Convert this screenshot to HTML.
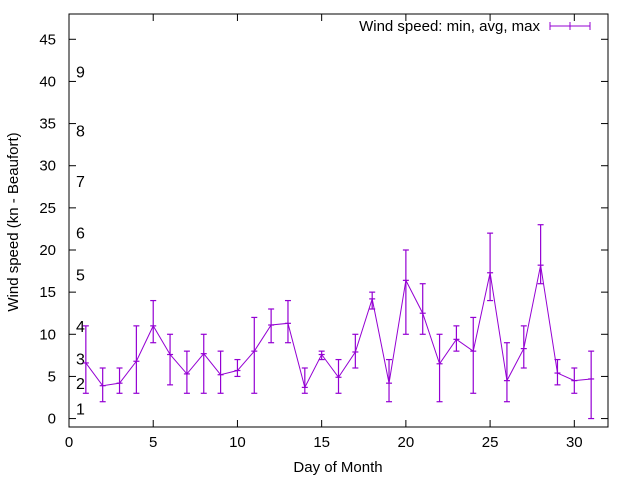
<!DOCTYPE html>
<html><head><meta charset="utf-8"><style>
html,body{margin:0;padding:0;background:#fff;}
svg{display:block;font-family:"Liberation Sans",Arial,sans-serif;}
</style></head><body>
<svg id="chart" width="640" height="480" viewBox="0 0 640 480">
<g id="axes"></g>
<g id="labels"></g>
<g id="series"></g>
<text x="0" y="0" transform="translate(18,222) rotate(-90)" text-anchor="middle" font-size="15" fill="#000">Wind speed (kn - Beaufort)</text>
<text x="338" y="472" text-anchor="middle" font-size="15" fill="#000">Day of Month</text>
<g>
<text x="540" y="31" text-anchor="end" font-size="15" fill="#000">Wind speed: min, avg, max</text>
<line x1="550" y1="26" x2="590" y2="26" stroke="#9400d3" stroke-width="1"/>
<line x1="550" y1="22" x2="550" y2="30" stroke="#9400d3"/>
<line x1="590" y1="22" x2="590" y2="30" stroke="#9400d3"/>
<line x1="570" y1="22" x2="570" y2="30" stroke="#9400d3"/>
</g>
</svg>
<script>
const days=[1,2,3,4,5,6,7,8,9,10,11,12,13,14,15,16,17,18,19,20,21,22,23,24,25,26,27,28,29,30,31];
const avgs=[6.6,3.9,4.2,6.8,11,7.6,5.3,7.7,5.2,5.7,8.0,11.1,11.3,3.7,7.6,4.9,7.9,14.2,4.2,16.4,12.5,6.5,9.4,8.0,17.3,4.5,8.3,18.2,5.4,4.5,4.7];
const mins=[3,2,3,3,9,4,3,3,3,5,3,9,9,3,7,3,6,13,2,10,10,2,8,3,14,2,6,16,4,3,0];
const maxs=[11,6,6,11,14,10,8,10,8,7,12,13,14,6,8,7,10,15,7,20,16,10,11,12,22,9,11,23,7,6,8];
const xTicks=[0,5,10,15,20,25,30];
const yTicks=[0,5,10,15,20,25,30,35,40,45];
const bfNames=["1","2","3","4","5","6","7","8","9"];
const bfVals=[1.2,4.2,7.1,11,17.1,22.1,28.2,34.2,41.2];
const NS="http://www.w3.org/2000/svg";
const L=69,R=608,T=14,B=427,XMIN=0,XMAX=32,YMIN=-1,YMAX=48;
function sx(v){return L+(v-XMIN)/(XMAX-XMIN)*(R-L);}
function sy(v){return B-(v-YMIN)/(YMAX-YMIN)*(B-T);}
function mk(tag,attrs,parent){const e=document.createElementNS(NS,tag);for(const k in attrs)e.setAttribute(k,attrs[k]);parent.appendChild(e);return e;}
const axes=document.getElementById('axes');
const border=mk('rect',{x:L,y:T,width:R-L,height:B-T,fill:'none',stroke:'#000','stroke-width':1},axes);


xTicks.forEach(v=>{
  const x=sx(v);
  mk('line',{x1:x,y1:B,x2:x,y2:B-7,stroke:'#000'},axes);
  mk('line',{x1:x,y1:T,x2:x,y2:T+7,stroke:'#000'},axes);
  const t=mk('text',{x:x,y:B+20,'text-anchor':'middle','font-size':15,fill:'#000'},axes);
  t.textContent=v;
  
  
});
yTicks.forEach(v=>{
  const y=sy(v);
  mk('line',{x1:L,y1:y,x2:L+7,y2:y,stroke:'#000'},axes);
  mk('line',{x1:R,y1:y,x2:R-7,y2:y,stroke:'#000'},axes);
  const t=mk('text',{x:L-13,y:y+5,'text-anchor':'end','font-size':15,fill:'#000'},axes);
  t.textContent=v;
  
  
});
const lab=document.getElementById('labels');
bfNames.forEach((n,i)=>{
  const t=mk('text',{x:76,y:sy(bfVals[i])+6,'font-size':16,fill:'#000'},lab);
  t.textContent=n;
  
  
});
const ser=document.getElementById('series');
const pts=days.map((d,i)=>sx(d)+','+sy(avgs[i])).join(' ');
const pl=mk('polyline',{points:pts,fill:'none',stroke:'#9400d3','stroke-width':1},ser);


days.forEach((d,i)=>{
  const x=sx(d);
  const g=mk('g',{stroke:'#9400d3','stroke-width':1.2},ser);
  
  
  mk('line',{x1:x,y1:sy(mins[i]),x2:x,y2:sy(maxs[i])},g);
  mk('line',{x1:x-3,y1:sy(mins[i]),x2:x+3,y2:sy(mins[i])},g);
  mk('line',{x1:x-3,y1:sy(maxs[i]),x2:x+3,y2:sy(maxs[i])},g);
  mk('line',{x1:x-3,y1:sy(avgs[i]),x2:x+3,y2:sy(avgs[i])},g);
});
</script>
</body></html>
